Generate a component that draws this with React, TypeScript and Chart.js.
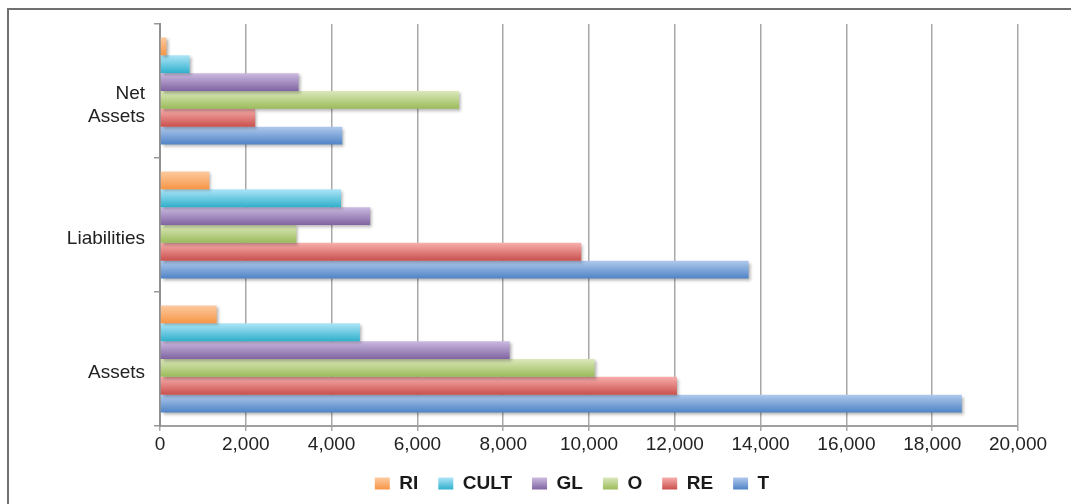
import React, { useEffect, useRef } from "react";
import { Chart, registerables } from "chart.js";

Chart.register(...registerables);

const categories: (string | string[])[] = [["Net", "Assets"], "Liabilities", "Assets"];
const seriesNames = ["RI", "CULT", "GL", "O", "RE", "T"];

const RI = [150, 1150, 1320];
const CULT = [690, 4220, 4660];
const GL = [3230, 4900, 8150];
const O = [6970, 3180, 10130];
const RE = [2220, 9820, 12050];
const T = [4250, 13720, 18690];

const xTicks = [0, 2000, 4000, 6000, 8000, 10000, 12000, 14000, 16000, 18000, 20000];

const topColors = ["#fccaa0", "#aee5f8", "#cbbbe0", "#dbe8bc", "#f7aeac", "#afc9ec"];
const bottomColors = ["#f79646", "#30b0cc", "#8064a2", "#9bbb59", "#c9504d", "#4f83c6"];
const midColors = ["#f9ad70", "#6ccbe3", "#a590c2", "#bdd38c", "#e07f7c", "#7ea5d9"];

const seriesValues = [RI, CULT, GL, O, RE, T];

const FONT = "'Liberation Sans', Arial, Helvetica, sans-serif";

const gradientPlugin = {
  id: "barGradient",
  afterLayout(chart: any) {
    if (chart.legend) {
      chart.legend.left = 126;
    }
  },
  beforeDraw(chart: any) {
    const ctx = chart.ctx;
    const lg = chart.legend;
    if (lg && lg.legendItems && lg.legendHitBoxes) {
      lg.legendItems.forEach((item: any, i: number) => {
        const hb = lg.legendHitBoxes[i];
        if (!hb) return;
        const cy = hb.top + hb.height / 2;
        const g = ctx.createLinearGradient(0, cy - 6, 0, cy + 6);
        g.addColorStop(0, topColors[i]);
        g.addColorStop(1, bottomColors[i]);
        item.fillStyle = g;
      });
    }
  },
  beforeDatasetsDraw(chart: any) {
    const ctx = chart.ctx;
    chart.data.datasets.forEach((_ds: any, di: number) => {
      const meta = chart.getDatasetMeta(di);
      meta.data.forEach((el: any) => {
        const top = el.y - el.height / 2;
        const bottom = el.y + el.height / 2;
        const g = ctx.createLinearGradient(0, top, 0, bottom);
        g.addColorStop(0, topColors[di]);
        g.addColorStop(1, bottomColors[di]);
        el.options = Object.assign({}, el.options, { backgroundColor: g });
      });
    });
    ctx.save();
    ctx.shadowColor = "rgba(0,0,0,0.3)";
    ctx.shadowBlur = 3;
    ctx.shadowOffsetX = 2;
    ctx.shadowOffsetY = 2;
  },
  afterDatasetsDraw(chart: any) {
    chart.ctx.restore();
  },
};

export default function App() {
  const ref = useRef<HTMLCanvasElement | null>(null);

  useEffect(() => {
    if (!ref.current) return;
    const chart = new Chart(ref.current, {
      type: "bar",
      data: {
        labels: categories as any,
        datasets: seriesNames.map((name, i) => ({
          label: name,
          data: seriesValues[i],
          backgroundColor: midColors[i],
          borderWidth: 0,
          categoryPercentage: 0.8,
          barPercentage: 1.0,
        })),
      },
      options: {
        indexAxis: "y",
        animation: false,
        responsive: false,
        maintainAspectRatio: false,
        devicePixelRatio: 1,
        layout: { padding: { top: 24, right: 53, left: 0, bottom: 1 } },
        plugins: {
          legend: {
            position: "bottom",
            labels: {
              boxWidth: 15,
              boxHeight: 12,
              padding: 20,
              color: "#1a1a1a",
              font: { family: FONT, size: 19, weight: "bold" },
            },
          },
          tooltip: { enabled: false },
        },
        scales: {
          x: {
            type: "linear",
            min: 0,
            max: 20000,
            afterBuildTicks: (s: any) => {
              s.ticks = xTicks.map((v) => ({ value: v }));
            },
            afterFit: (s: any) => {
              s.height = 28;
            },
            grid: {
              color: "#a8a8a8",
              lineWidth: 1.5,
              tickLength: 5,
              drawTicks: true,
            },
            border: { color: "#a0a0a0", width: 2 },
            ticks: {
              color: "#222",
              padding: 2,
              maxRotation: 0,
              font: { family: FONT, size: 19, lineHeight: 1.2 },
              callback: (v: any) => Number(v).toLocaleString("en-US"),
            },
          },
          y: {
            type: "category",
            afterFit: (s: any) => {
              s.width = 160;
            },
            grid: {
              drawOnChartArea: false,
              drawTicks: true,
              tickLength: 6,
              color: "#999",
              lineWidth: 1.5,
              offset: true,
            },
            border: { color: "#909090", width: 2 },
            ticks: {
              color: "#222",
              padding: 9,
              labelOffset: 14,
              font: { family: FONT, size: 19, lineHeight: 1.2 },
            },
          },
        },
      },
      plugins: [gradientPlugin],
    } as any);
    return () => chart.destroy();
  }, []);

  return (
    <div style={{ position: "absolute", left: 0, top: 0, width: 1071, height: 504, background: "#fff", overflow: "hidden" }}>
      <canvas ref={ref} width={1071} height={504} style={{ position: "absolute", left: 0, top: 0, width: 1071, height: 504 }} />
      <div
        style={{
          position: "absolute",
          left: 7,
          top: 8,
          width: 1200,
          height: 600,
          borderTop: "2px solid #707070",
          borderLeft: "2px solid #707070",
          pointerEvents: "none",
        }}
      />
    </div>
  );
}
